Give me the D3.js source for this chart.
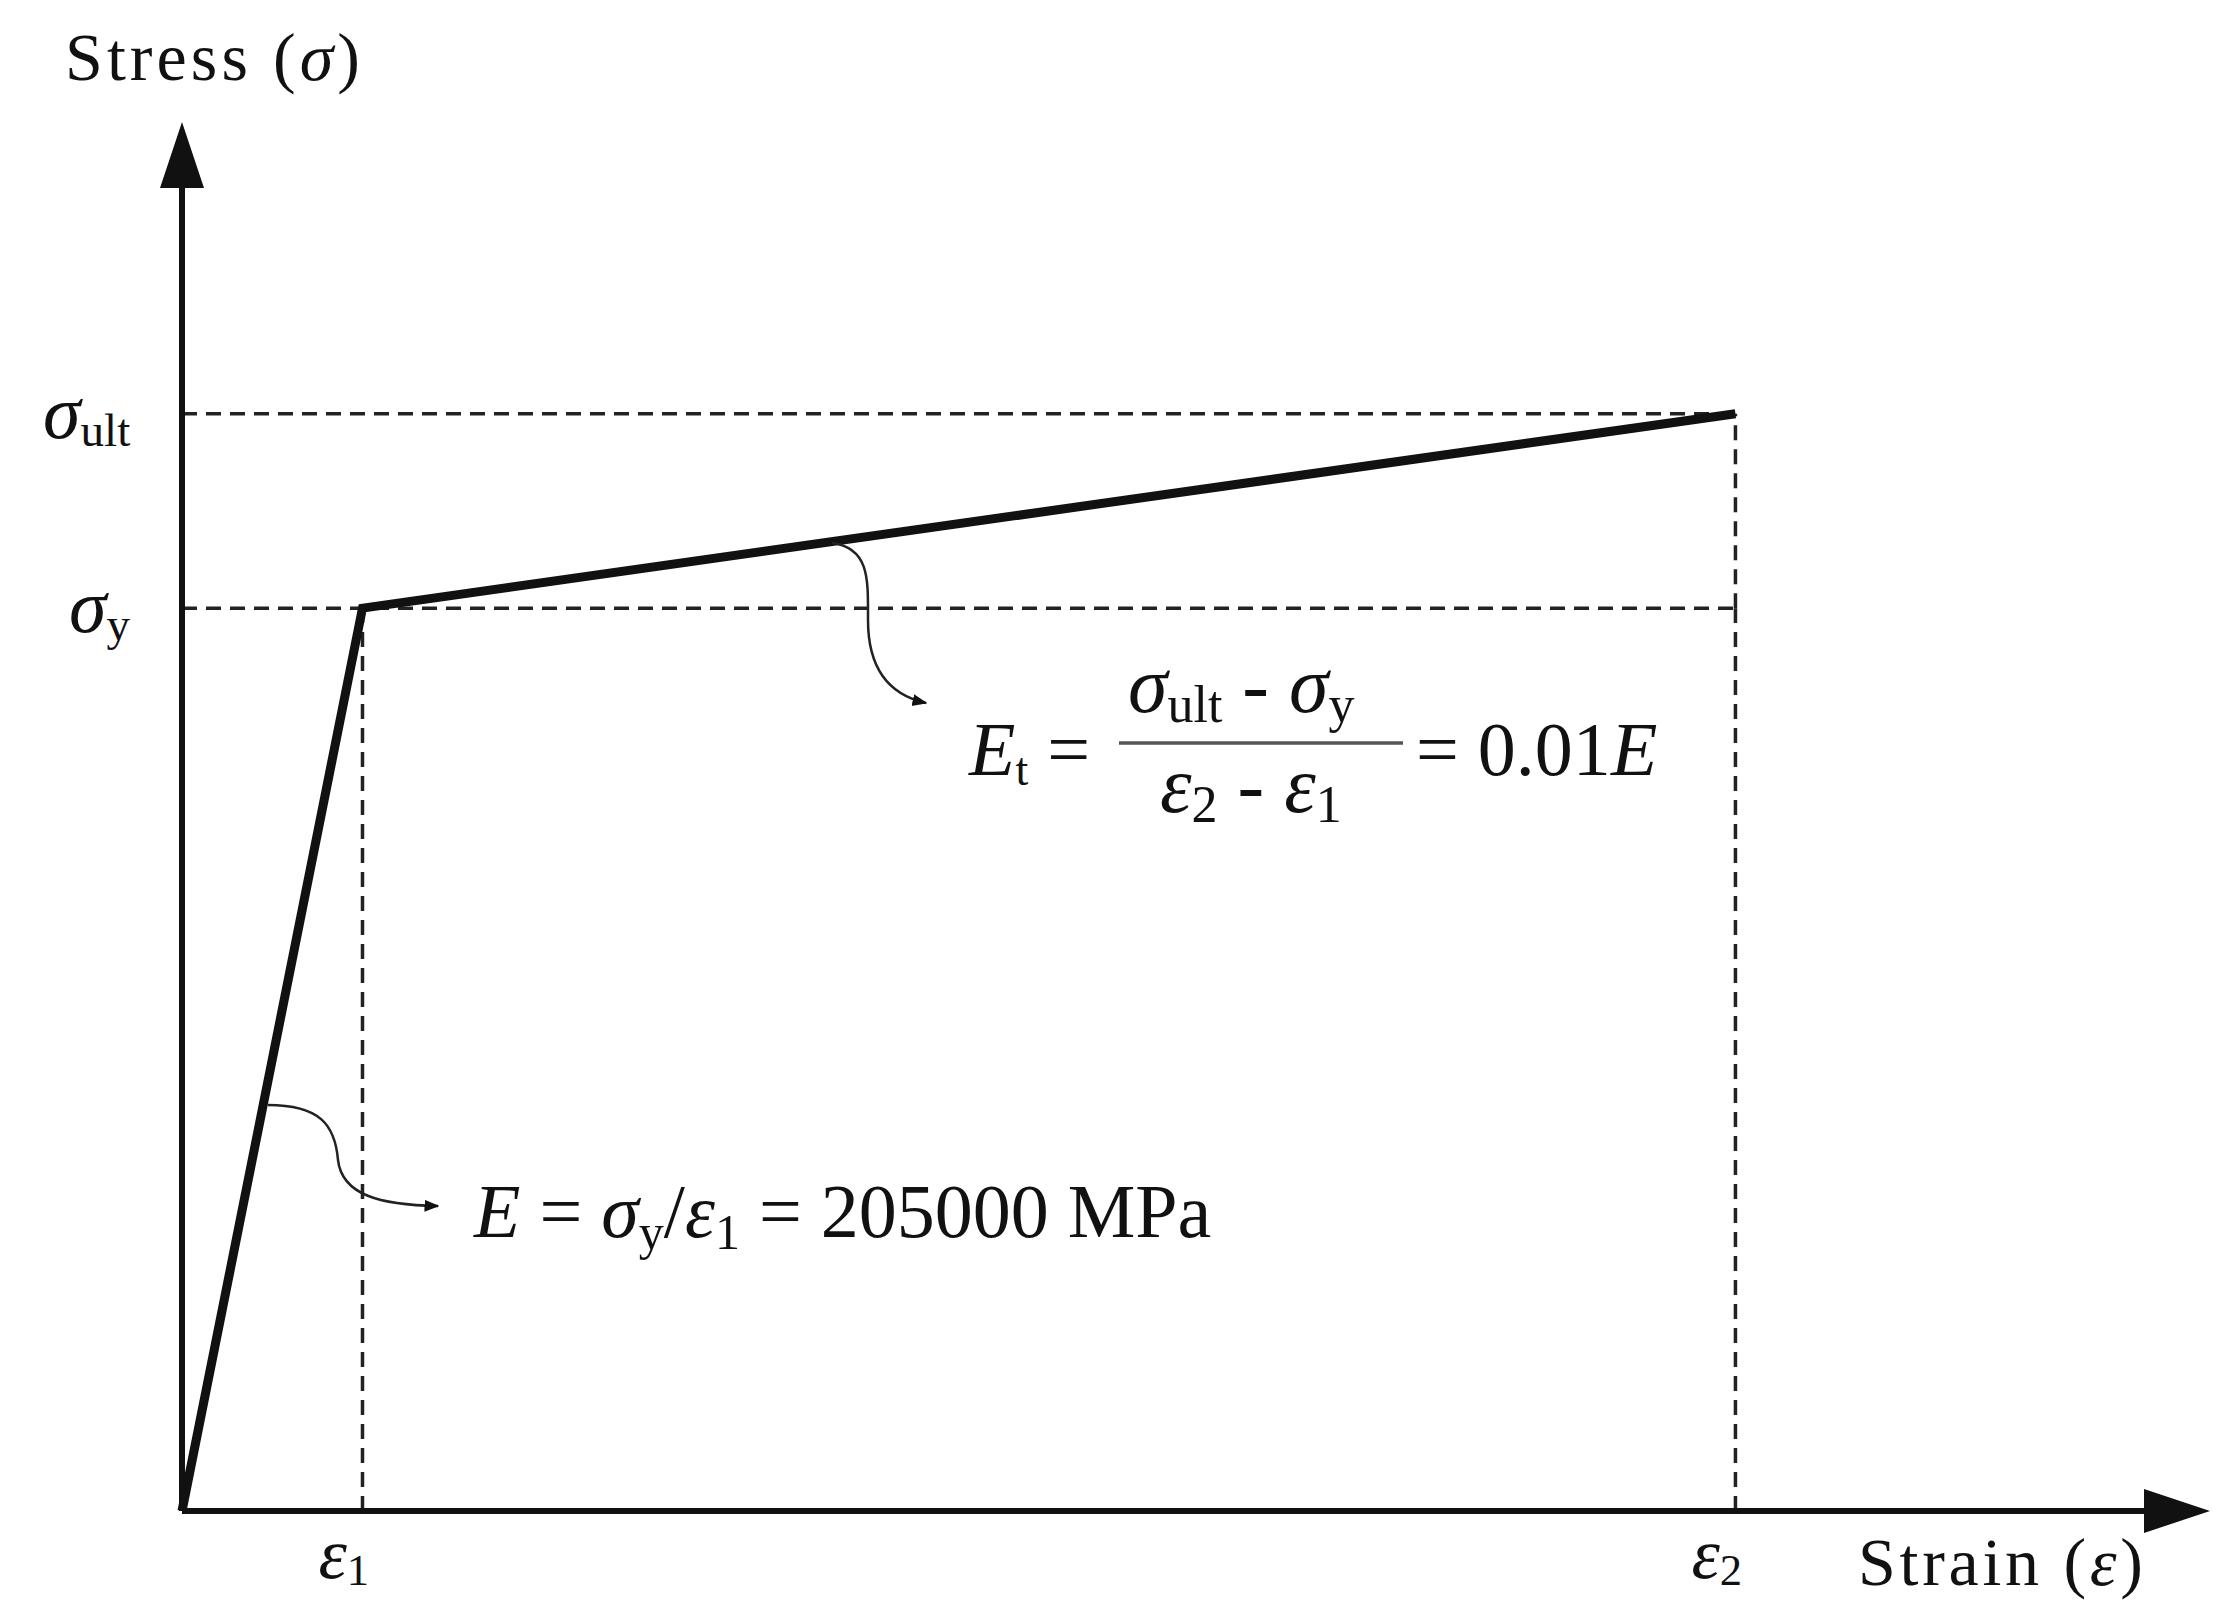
<!DOCTYPE html>
<html>
<head>
<meta charset="utf-8">
<script src="https://d3js.org/d3.v7.min.js"></script>
<style>
  body { margin: 0; background: #fff; }
  text { font-family: "Liberation Serif", "DejaVu Serif", serif; fill: #111; }
</style>
</head>
<body>
<svg id="chart" width="2225" height="1609"></svg>
<script>
// key points of the bilinear stress-strain model (arbitrary units)
const strain = [0, 0.89, 7.66];
const stress = [0, 6.5, 7.9];
const xTicks = [{v: strain[1], label: "ε", sub: "1"}, {v: strain[2], label: "ε", sub: "2"}];
const yTicks = [{v: stress[1], label: "σ", sub: "y"}, {v: stress[2], label: "σ", sub: "ult"}];

const svg = d3.select("#chart");
const x = d3.scaleLinear().domain([0, 10]).range([182, 2210]);
const y = d3.scaleLinear().domain([0, 10]).range([1511, 122]);

svg.append("defs").append("marker")
  .attr("id", "arr").attr("viewBox", "0 0 10 10").attr("refX", 9).attr("refY", 5)
  .attr("markerWidth", 6).attr("markerHeight", 6).attr("orient", "auto")
  .append("path").attr("d", "M0,1 L10,5 L0,9 Z").attr("fill", "#111");

const dash = sel => sel.attr("stroke", "#222").attr("stroke-width", 3.5).attr("stroke-dasharray", "15,9");

// dashed guides
xTicks.forEach(t => {
  svg.append("line").attr("x1", x(t.v)).attr("x2", x(t.v)).attr("y1", y(0)).attr("y2", y(stress[1])).call(dash);
});
svg.append("line").attr("x1", x(strain[2])).attr("x2", x(strain[2])).attr("y1", y(stress[1])).attr("y2", y(stress[2])).call(dash);
yTicks.forEach(t => {
  svg.append("line").attr("x1", x(0)).attr("x2", x(strain[2])).attr("y1", y(t.v)).attr("y2", y(t.v)).call(dash);
});

// axes with arrow heads
svg.append("line").attr("x1", x(0)).attr("y1", y(0)).attr("x2", x(0)).attr("y2", 170)
  .attr("stroke", "#111").attr("stroke-width", 6);
svg.append("path").attr("d", `M${x(0)},122 L${x(0) - 22},188 L${x(0) + 22},188 Z`).attr("fill", "#111");
svg.append("line").attr("x1", x(0)).attr("y1", y(0)).attr("x2", 2160).attr("y2", y(0))
  .attr("stroke", "#111").attr("stroke-width", 6);
svg.append("path").attr("d", `M2210,${y(0)} L2144,${y(0) - 22} L2144,${y(0) + 22} Z`).attr("fill", "#111");

// curve
svg.append("path")
  .datum(strain.map((s, i) => [s, stress[i]]))
  .attr("d", d3.line().x(d => x(d[0])).y(d => y(d[1])))
  .attr("fill", "none").attr("stroke", "#111").attr("stroke-width", 9).attr("stroke-linejoin", "miter");

// text helper: main + subscript
function label(px, py, main, sub, size, italic) {
  const t = svg.append("text").attr("x", px).attr("y", py).attr("font-size", size);
  t.append("tspan").text(main).attr("font-style", italic ? "italic" : null);
  t.append("tspan").text(sub).attr("font-size", size * 0.62).attr("dy", size * 0.1);
  return t;
}
xTicks.forEach(t => label(x(t.v) - 44, 1578, t.label, t.sub, 72, true));
label(43, 438, yTicks[1].label, yTicks[1].sub, 76, true);
label(69, 632, yTicks[0].label, yTicks[0].sub, 76, true);

const st = svg.append("text").attr("x", 65).attr("y", 80).attr("font-size", 68).attr("textLength", 295);
st.append("tspan").text("Stress (");
st.append("tspan").text("σ").attr("font-style", "italic");
st.append("tspan").text(")");
const sn = svg.append("text").attr("x", 1858).attr("y", 1585).attr("font-size", 68).attr("textLength", 285);
sn.append("tspan").text("Strain (");
sn.append("tspan").text("ε").attr("font-style", "italic");
sn.append("tspan").text(")");

// annotation 1
const f1 = svg.append("text").attr("x", 474).attr("y", 1237).attr("font-size", 76);
f1.append("tspan").text("E").attr("font-style", "italic");
f1.append("tspan").text(" = ");
f1.append("tspan").text("σ").attr("font-style", "italic");
f1.append("tspan").text("y").attr("font-size", 50).attr("dy", 12);
f1.append("tspan").text("/").attr("dy", -12);
f1.append("tspan").text("ε").attr("font-style", "italic");
f1.append("tspan").text("1").attr("font-size", 50).attr("dy", 12);
f1.append("tspan").text(" = 205000 MPa").attr("dy", -12);

// annotation 2
const et = svg.append("text").attr("x", 969).attr("y", 775).attr("font-size", 76);
et.append("tspan").text("E").attr("font-style", "italic");
et.append("tspan").text("t").attr("font-size", 46).attr("dy", 10);
et.append("tspan").text(" =").attr("dy", -10);
svg.append("line").attr("x1", 1119).attr("x2", 1403).attr("y1", 743).attr("y2", 743)
  .attr("stroke", "#555").attr("stroke-width", 3.5);
const num = svg.append("text").attr("x", 1128).attr("y", 712).attr("font-size", 80);
num.append("tspan").text("σ").attr("font-style", "italic");
num.append("tspan").text("ult").attr("font-size", 52).attr("dy", 10);
num.append("tspan").text(" - ").attr("dy", -10);
num.append("tspan").text("σ").attr("font-style", "italic");
num.append("tspan").text("y").attr("font-size", 52).attr("dy", 10);
const den = svg.append("text").attr("x", 1160).attr("y", 812).attr("font-size", 80);
den.append("tspan").text("ε").attr("font-style", "italic");
den.append("tspan").text("2").attr("font-size", 52).attr("dy", 10);
den.append("tspan").text(" - ").attr("dy", -10);
den.append("tspan").text("ε").attr("font-style", "italic");
den.append("tspan").text("1").attr("font-size", 52).attr("dy", 10);
const eq = svg.append("text").attr("x", 1416).attr("y", 775).attr("font-size", 76);
eq.append("tspan").text("= 0.01");
eq.append("tspan").text("E").attr("font-style", "italic");

// leader curves
svg.append("path").attr("d", "M832,543 C870,548 868,580 868,620 C868,670 890,695 926,703")
  .attr("fill", "none").attr("stroke", "#222").attr("stroke-width", 2.5).attr("marker-end", "url(#arr)");
svg.append("path").attr("d", "M268,1105 C320,1105 335,1125 338,1160 C342,1195 380,1205 438,1206")
  .attr("fill", "none").attr("stroke", "#222").attr("stroke-width", 2.5).attr("marker-end", "url(#arr)");
</script>
</body>
</html>
